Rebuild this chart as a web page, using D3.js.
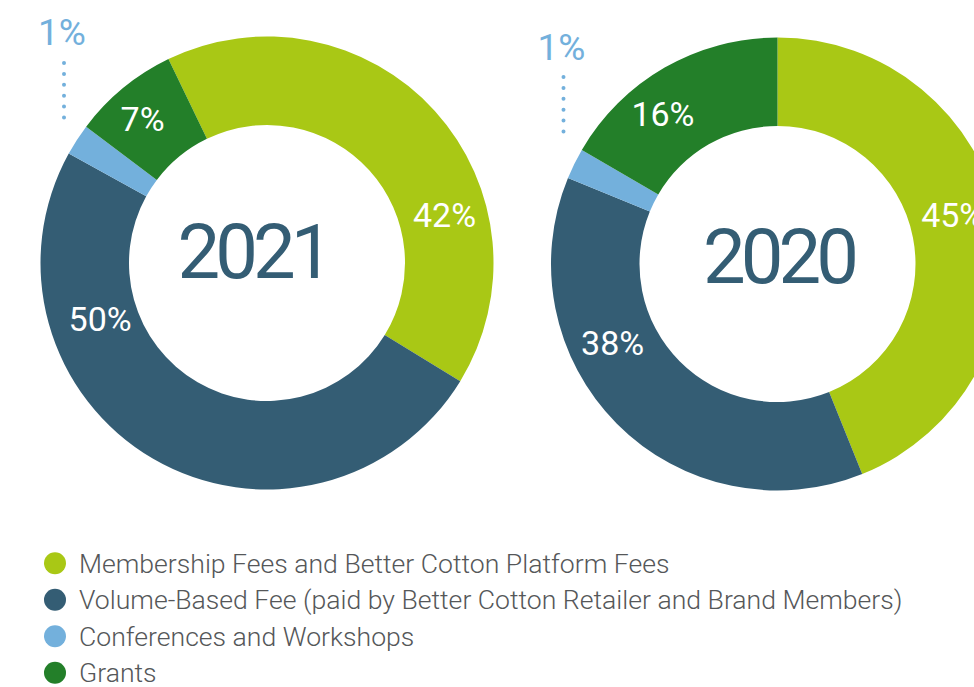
<!DOCTYPE html>
<html>
<head>
<meta charset="utf-8">
<script src="https://cdn.jsdelivr.net/npm/d3@7"></script>
<style>
  body { margin: 0; background: #fff; }
  svg { display: block; font-family: Roboto, sans-serif; }
</style>
</head>
<body>
<svg></svg>
<script>
const size = {w: 974, h: 687};

// revenue categories (legend order = slice order, clockwise)
const categories = [
    'Membership Fees and Better Cotton Platform Fees',
    'Volume-Based Fee (paid by Better Cotton Retailer and Brand Members)',
    'Conferences and Workshops',
    'Grants'
];
const colors = ['#a9c815', '#345d74', '#73b0dc', '#237f29'];

const years = ['2021', '2020'];
// share of the ring as drawn
const shares2021 = [40.9, 49.3, 2.25, 7.55];
const shares2020 = [43.9, 37.3, 2.2, 16.6];
// printed labels
const labels2021 = ['42%', '50%', '1%', '7%'];
const labels2020 = ['45%', '38%', '1%', '16%'];

// layout of the two donuts
const charts = [
    {year: years[0], shares: shares2021, labels: labels2021,
     cx: 267, cy: 263, start: -25.8,
     labelAngles: [74.8, 251.5, null, 319.1], labelR: [184, 176, 0, 190],
     yearDx: -14, yearDy: -12,
     out: {x: -203, y: -231, y0: -200, y1: -135}},
    {year: years[1], shares: shares2020, labels: labels2020,
     cx: 777.5, cy: 264, start: 0,
     labelAngles: [74.3, 244.3, null, 322.7], labelR: [182, 183, 0, 189],
     yearDx: 1, yearDy: -8,
     out: {x: -214, y: -217, y0: -187, y1: -122}}
];
const R = 226.5, r = 138;

const svg = d3.select('svg')
    .attr('width', size.w)
    .attr('height', size.h);

const rad = deg => deg * Math.PI / 180;

const arc = d3.arc().innerRadius(r).outerRadius(R);

charts.forEach(c => {
    const g = svg.append('g')
        .attr('transform', `translate(${c.cx},${c.cy})`);

    const pie = d3.pie().sort(null).value(d => d)
        .startAngle(rad(c.start))
        .endAngle(rad(c.start + 360));

    const arcs = pie(c.shares);

    g.selectAll('path')
        .data(arcs)
        .enter()
        .append('path')
        .attr('d', arc)
        .attr('fill', (d, i) => colors[i]);

    // labels inside the ring
    g.selectAll('text.pct')
        .data(arcs.filter((d, i) => c.labelAngles[i] !== null))
        .enter()
        .append('text')
        .classed('pct', true)
        .attr('x', d => c.labelR[d.index] * Math.sin(rad(c.labelAngles[d.index])))
        .attr('y', d => -c.labelR[d.index] * Math.cos(rad(c.labelAngles[d.index])))
        .attr('dy', '0.355em')
        .attr('text-anchor', 'middle')
        .attr('fill', '#fff')
        .style('font-size', '34px')
        .text(d => c.labels[d.index]);

    // small slice: label outside with dotted leader
    g.append('line')
        .attr('x1', c.out.x).attr('x2', c.out.x)
        .attr('y1', c.out.y0).attr('y2', c.out.y1)
        .attr('stroke', colors[2])
        .attr('stroke-width', 4)
        .attr('stroke-linecap', 'round')
        .attr('stroke-dasharray', '0 10.9');

    g.append('text')
        .attr('x', c.out.x - 2)
        .attr('y', c.out.y)
        .attr('dy', '0.355em')
        .attr('text-anchor', 'middle')
        .attr('fill', colors[2])
        .style('font-size', '37px')
        .text(c.labels[2]);

    // year in the middle
    g.append('text')
        .attr('x', c.yearDx)
        .attr('y', c.yearDy)
        .attr('dy', '0.355em')
        .attr('text-anchor', 'middle')
        .attr('fill', colors[1])
        .style('font-size', '76px')
        .style('letter-spacing', '-5px')
        .text(c.year);
});

// legend
const legendY = d3.scaleBand()
    .domain(categories)
    .range([545, 691]);

const legend = svg.append('g').classed('legend', true);

const item = legend.selectAll('g')
    .data(categories)
    .enter()
    .append('g')
    .attr('transform', d => `translate(0,${legendY(d) + legendY.bandwidth() / 2})`);

item.append('circle')
    .attr('cx', 55)
    .attr('r', 11)
    .attr('fill', (d, i) => colors[i]);

item.append('text')
    .attr('x', 79)
    .attr('dy', '0.355em')
    .attr('fill', '#555759')
    .style('font-size', '26.6px')
    .style('font-weight', 300)
    .text(d => d);
</script>
</body>
</html>
